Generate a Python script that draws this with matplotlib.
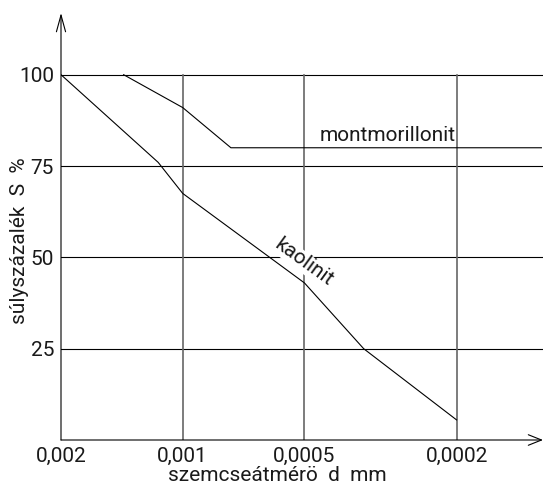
import numpy as np
import matplotlib
matplotlib.use('Agg')
import matplotlib.pyplot as plt

# ---------------
# Data
# ---------------
x_ticks = [0.002, 0.001, 0.0005, 0.0002]
x_ticklabels = ['0,002', '0,001', '0,0005', '0,0002']
y_ticks = [25, 50, 75, 100]

mont_d = [0.0014, 0.001, 0.00076, 0.00012]
mont_s = [100, 91, 80, 80]

kaol_d = [0.002, 0.00115, 0.001, 0.0005, 0.00035, 0.0002]
kaol_s = [100, 76, 67.5, 43, 25, 5.5]

# ---------------
# Axis scale: the drawing's log axis is not quite uniform
# ---------------
d0 = 0.002
L_knots = np.log10(d0 / np.array(x_ticks + [0.00002]))
P_knots = np.array([0, 1, 2, 3.25, 3.25 + 1.25 / 0.398])


def fwd(d):
    d = np.clip(np.asarray(d, dtype=float), 1e-12, None)
    return np.interp(np.log10(d0 / d), L_knots, P_knots)


def inv(p):
    return d0 / 10 ** np.interp(p, P_knots, L_knots)


plt.rcParams['font.family'] = ['Roboto', 'DejaVu Sans']
fs = 15
tc = '#1a1a1a'

fig = plt.figure(figsize=(5.43, 4.88), dpi=100)
ax = fig.add_axes([61 / 543, 48 / 488, 482 / 543, 427 / 488])
ax.set_xscale('function', functions=(fwd, inv))
ax.set_xlim(d0, inv(3.96))
ax.set_ylim(0, 427 / 3.653)
# make sure the largest diameter sits on the left
if ax.transData.transform((d0, 0))[0] > ax.transData.transform((inv(3.96), 0))[0]:
    ax.invert_xaxis()

for s in ax.spines.values():
    s.set_visible(False)

# grid
for v in y_ticks:
    ax.plot([d0, inv(5)], [v, v], color='black', lw=0.8, zorder=1)
for d in x_ticks[1:]:
    ax.plot([d, d], [0, 100], color='#666666', lw=1.2, zorder=1)

# arrows for axes
ax.annotate('', xy=(1, 0), xytext=(0, 0), xycoords='axes fraction',
            arrowprops=dict(arrowstyle='->,head_length=0.95,head_width=0.38',
                            lw=0.8, color='black', shrinkA=0, shrinkB=0))
ax.annotate('', xy=(0, 1), xytext=(0, 0), xycoords='axes fraction',
            arrowprops=dict(arrowstyle='->,head_length=1.2,head_width=0.33',
                            lw=0.8, color='black', shrinkA=0, shrinkB=0))

ax.plot(mont_d, mont_s, color='black', lw=0.8, zorder=2)
ax.plot(kaol_d, kaol_s, color='black', lw=0.8, zorder=2)

ax.set_xticks(x_ticks)
ax.set_xticklabels(x_ticklabels)
ax.set_yticks(y_ticks)
ax.tick_params(length=0, labelsize=fs, colors=tc)
ax.tick_params(axis='x', pad=5)
ax.tick_params(axis='y', pad=5)

ax.text(0.000455, 81.8, 'montmorillonit', fontsize=fs, ha='left', va='baseline',
        color=tc)
ax.text(0.0005, 48.5, 'kaolinit', fontsize=fs, ha='center', va='center',
        rotation=-36, color=tc, zorder=3,
        bbox=dict(facecolor='white', edgecolor='none', pad=0.3))

fig.text(277 / 543, 1 - 481 / 488, 'szemcseátmérö  d  mm', fontsize=fs,
         ha='center', va='baseline', color=tc)
fig.text(20 / 543, 1 - 241 / 488, 'súlyszázalék  S  %', fontsize=fs,
         ha='center', va='center', rotation=90, color=tc)

fig.savefig('out.png', dpi=100)
